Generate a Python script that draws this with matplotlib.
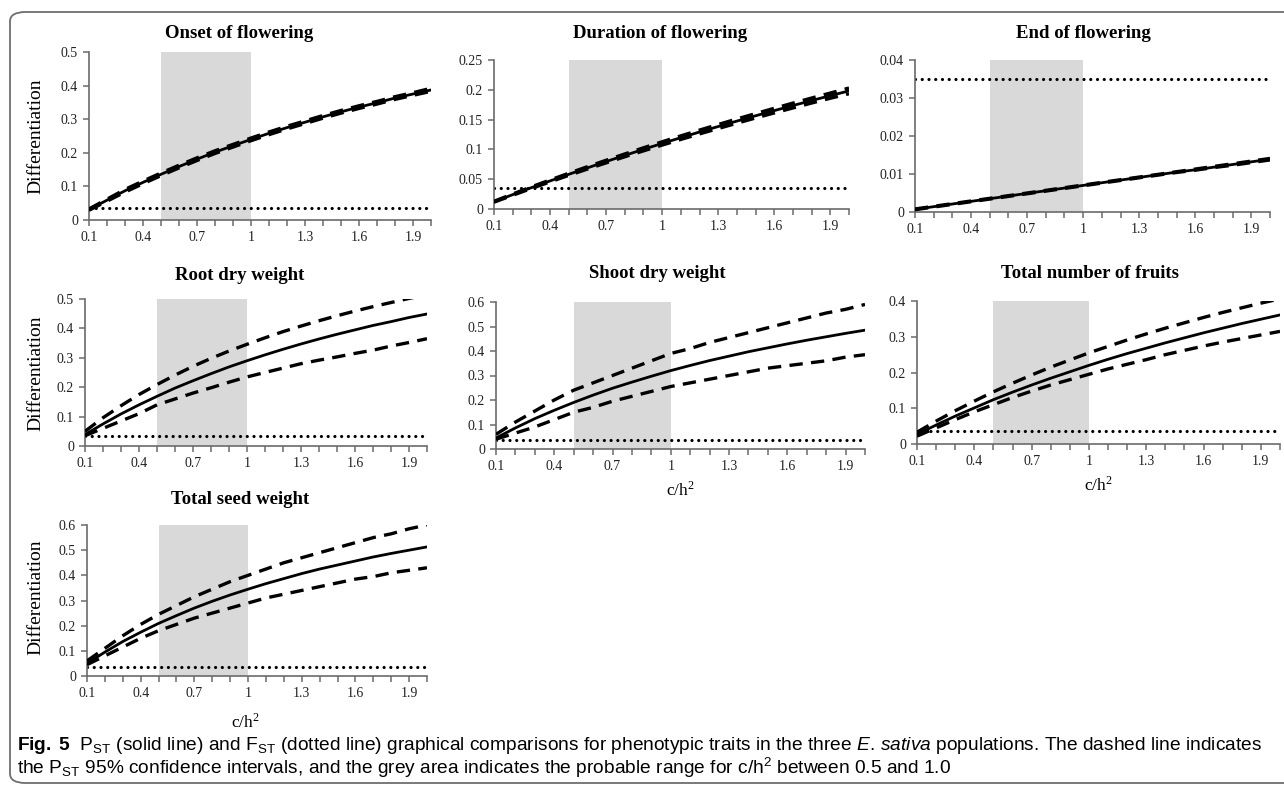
import numpy as np
import matplotlib
matplotlib.use("Agg")
import matplotlib.pyplot as plt
from matplotlib.patches import FancyBboxPatch
from matplotlib.ticker import FuncFormatter, MultipleLocator

W, H = 1284, 789

# c/h2 values (x axis categories)
ch2 = [0.1, 0.2, 0.3, 0.4, 0.5, 0.6, 0.7, 0.8, 0.9, 1.0,
       1.1, 1.2, 1.3, 1.4, 1.5, 1.6, 1.7, 1.8, 1.9, 2.0]
x_labels = ["0.1", "0.4", "0.7", "1", "1.3", "1.6", "1.9"]
fst = 0.035

onset_pst = [0.031, 0.059, 0.087, 0.112, 0.136, 0.159, 0.181, 0.202, 0.221, 0.240,
             0.258, 0.275, 0.291, 0.307, 0.322, 0.336, 0.349, 0.363, 0.375, 0.387]
onset_hi = [0.033, 0.062, 0.091, 0.116, 0.140, 0.163, 0.185, 0.206, 0.225, 0.244,
            0.262, 0.279, 0.295, 0.311, 0.326, 0.340, 0.353, 0.367, 0.379, 0.392]
onset_lo = [0.029, 0.056, 0.083, 0.108, 0.132, 0.155, 0.177, 0.198, 0.217, 0.236,
            0.254, 0.271, 0.287, 0.303, 0.318, 0.332, 0.345, 0.359, 0.371, 0.383]

dur_pst = [0.0122, 0.0241, 0.0358, 0.0471, 0.0582, 0.0690, 0.0796, 0.0900, 0.1001, 0.1100,
           0.1197, 0.1292, 0.1384, 0.1475, 0.1564, 0.1651, 0.1736, 0.1820, 0.1902, 0.1982]
dur_hi = [0.0130, 0.0252, 0.0372, 0.0487, 0.0600, 0.0710, 0.0818, 0.0924, 0.1027, 0.1128,
          0.1227, 0.1324, 0.1418, 0.1511, 0.1601, 0.1690, 0.1777, 0.1862, 0.1946, 0.2030]
dur_lo = [0.0114, 0.0230, 0.0344, 0.0455, 0.0564, 0.0670, 0.0774, 0.0876, 0.0975, 0.1072,
          0.1167, 0.1260, 0.1350, 0.1439, 0.1527, 0.1612, 0.1695, 0.1778, 0.1858, 0.1934]

end_pst = [0.0007, 0.0014, 0.0021, 0.0028, 0.0035, 0.0042, 0.0049, 0.0056, 0.0063, 0.0070,
           0.0077, 0.0084, 0.0091, 0.0098, 0.0105, 0.0111, 0.0118, 0.0125, 0.0132, 0.0139]
end_hi = [0.0008, 0.0015, 0.0022, 0.0029, 0.0036, 0.0043, 0.0050, 0.0057, 0.0064, 0.0071,
          0.0078, 0.0085, 0.0092, 0.0099, 0.0106, 0.0113, 0.0120, 0.0127, 0.0134, 0.0141]
end_lo = [0.0006, 0.0013, 0.0020, 0.0027, 0.0034, 0.0041, 0.0048, 0.0055, 0.0062, 0.0069,
          0.0076, 0.0083, 0.0090, 0.0097, 0.0104, 0.0110, 0.0117, 0.0123, 0.0130, 0.0137]

root_pst = [0.039, 0.075, 0.109, 0.140, 0.169, 0.197, 0.222, 0.246, 0.269, 0.290,
            0.310, 0.329, 0.347, 0.364, 0.380, 0.395, 0.410, 0.423, 0.437, 0.449]
root_hi = [0.050, 0.096, 0.137, 0.175, 0.209, 0.241, 0.271, 0.298, 0.323, 0.346,
           0.368, 0.389, 0.408, 0.426, 0.443, 0.459, 0.474, 0.488, 0.502, 0.515]
root_lo = [0.035, 0.060, 0.085, 0.110, 0.140, 0.160, 0.180, 0.198, 0.217, 0.235,
           0.250, 0.265, 0.280, 0.292, 0.303, 0.315, 0.326, 0.340, 0.352, 0.365]

shoot_pst = [0.045, 0.086, 0.124, 0.158, 0.190, 0.220, 0.248, 0.273, 0.297, 0.320,
             0.341, 0.361, 0.379, 0.397, 0.413, 0.429, 0.444, 0.458, 0.472, 0.485]
shoot_hi = [0.060, 0.110, 0.155, 0.200, 0.240, 0.270, 0.300, 0.330, 0.360, 0.390,
            0.410, 0.435, 0.455, 0.475, 0.495, 0.515, 0.535, 0.555, 0.570, 0.590]
shoot_lo = [0.040, 0.065, 0.090, 0.120, 0.150, 0.170, 0.195, 0.215, 0.235, 0.255,
            0.270, 0.285, 0.300, 0.315, 0.330, 0.340, 0.350, 0.360, 0.375, 0.385]

fruit_pst = [0.027, 0.053, 0.078, 0.101, 0.124, 0.145, 0.165, 0.184, 0.202, 0.220,
             0.237, 0.253, 0.268, 0.283, 0.297, 0.311, 0.324, 0.337, 0.349, 0.361]
fruit_hi = [0.033, 0.064, 0.093, 0.120, 0.146, 0.170, 0.193, 0.215, 0.235, 0.255,
            0.273, 0.291, 0.308, 0.324, 0.339, 0.354, 0.368, 0.381, 0.394, 0.406]
fruit_lo = [0.022, 0.045, 0.068, 0.090, 0.110, 0.130, 0.148, 0.165, 0.180, 0.195,
            0.210, 0.223, 0.236, 0.250, 0.262, 0.274, 0.285, 0.295, 0.305, 0.315]

seed_pst = [0.050, 0.095, 0.137, 0.174, 0.209, 0.240, 0.270, 0.297, 0.322, 0.345,
            0.367, 0.387, 0.407, 0.425, 0.441, 0.457, 0.473, 0.487, 0.500, 0.513]
seed_hi = [0.060, 0.110, 0.160, 0.205, 0.245, 0.280, 0.315, 0.345, 0.375, 0.400,
           0.425, 0.450, 0.470, 0.490, 0.510, 0.530, 0.550, 0.565, 0.585, 0.600]
seed_lo = [0.045, 0.080, 0.115, 0.150, 0.180, 0.205, 0.230, 0.250, 0.270, 0.290,
           0.310, 0.325, 0.340, 0.355, 0.370, 0.385, 0.395, 0.410, 0.420, 0.430]

titles = ["Onset of flowering", "Duration of flowering", "End of flowering",
          "Root dry weight", "Shoot dry weight", "Total number of fruits",
          "Total seed weight"]
y_max = [0.5, 0.25, 0.04, 0.5, 0.6, 0.4, 0.6]
y_step = [0.1, 0.05, 0.01, 0.1, 0.1, 0.1, 0.1]
series = [(onset_pst, onset_hi, onset_lo), (dur_pst, dur_hi, dur_lo),
          (end_pst, end_hi, end_lo), (root_pst, root_hi, root_lo),
          (shoot_pst, shoot_hi, shoot_lo), (fruit_pst, fruit_hi, fruit_lo),
          (seed_pst, seed_hi, seed_lo)]

# pixel boxes: left, top, right, bottom of each plot area
boxes = [(89, 52, 431, 220), (494, 60, 849, 209), (915, 60, 1270, 212),
         (85, 299, 427, 446), (496, 302, 865, 449), (917, 301, 1280, 444),
         (87, 525, 427, 676)]
title_pos = [(239, 33), (660, 33), (1083, 33), (240, 275), (657, 274),
             (1090, 273), (240, 499)]
ylab_pos = [(36, 136), (36, 373), (36, 597)]
xlab_pos = [(680, 490), (1098, 485), (245, 722)]

serif = "Liberation Serif"
plt.rcParams["mathtext.fontset"] = "custom"
plt.rcParams["mathtext.rm"] = "Liberation Sans"
plt.rcParams["mathtext.it"] = "Liberation Sans:italic"
plt.rcParams["mathtext.bf"] = "Liberation Sans:bold"

fig = plt.figure(figsize=(W / 100, H / 100), dpi=100)


def px(l, t, r, b):
    return [l / W, 1 - b / H, (r - l) / W, (b - t) / H]


def fmt(v, pos):
    return "{:g}".format(round(v, 3))


for i in range(7):
    ax = fig.add_axes(px(*boxes[i]))
    pst, hi, lo = series[i]
    ax.axvspan(0.5, 1.0, color="#d9d9d9", lw=0, zorder=0)
    ax.plot(ch2, [fst] * len(ch2), color="black", lw=2.3,
            linestyle=(0, (0.01, 2.1)), dash_capstyle="round", zorder=2)
    ax.plot(ch2, hi, color="black", lw=2.4, linestyle=(0, (4, 2.5)), zorder=3)
    ax.plot(ch2, lo, color="black", lw=2.4, linestyle=(0, (4, 2.5)), zorder=3)
    ax.plot(ch2, pst, color="black", lw=2.0, zorder=4)
    ax.set_xlim(0.1, 2.0)
    ax.set_ylim(0, y_max[i])
    ax.set_xticks([float(s) for s in x_labels])
    ax.set_xticklabels(x_labels)
    ax.xaxis.set_minor_locator(MultipleLocator(0.1))
    ax.yaxis.set_major_locator(MultipleLocator(y_step[i]))
    ax.yaxis.set_major_formatter(FuncFormatter(fmt))
    for s in ["top", "right"]:
        ax.spines[s].set_visible(False)
    for s in ["left", "bottom"]:
        ax.spines[s].set_color("#6b6b6b")
        ax.spines[s].set_linewidth(1.2)
    ax.tick_params(which="both", direction="out", color="#6b6b6b", width=1.1)
    ax.tick_params(which="major", length=4, labelsize=10, pad=4)
    ax.tick_params(which="minor", length=4)
    for lab in ax.get_xticklabels() + ax.get_yticklabels():
        lab.set_fontfamily(serif)
        lab.set_color("#222222")
    ax.patch.set_alpha(0)
    tx, ty = title_pos[i]
    fig.text(tx / W, 1 - ty / H, titles[i], ha="center", va="center",
             fontsize=13.5, fontweight="bold", family=serif)

for (lx, ly) in ylab_pos:
    fig.text(lx / W, 1 - ly / H, "Differentiation", rotation=90, ha="center",
             va="center", fontsize=14, family=serif)
for (lx, ly) in xlab_pos:
    fig.text(lx / W, 1 - ly / H, r"c/h$^\mathregular{2}$", ha="center",
             va="center", fontsize=12.5, family=serif)

# caption
cap_font = "Liberation Sans"
line1 = (r"$\mathbf{Fig.\;5}$  P$_\mathregular{ST}$ (solid line) and F$_\mathregular{ST}$ "
         r"(dotted line) graphical comparisons for phenotypic traits in the three "
         r"$\mathit{E.\,sativa}$ populations. The dashed line indicates")
line2 = (r"the P$_\mathregular{ST}$ 95% confidence intervals, and the grey area indicates "
         r"the probable range for c/h$^\mathregular{2}$ between 0.5 and 1.0")
fig.text(17 / W, 1 - 746 / H, line1, ha="left", va="center", fontsize=13.8,
         family=cap_font)
fig.text(17 / W, 1 - 768 / H, line2, ha="left", va="center", fontsize=13.8,
         family=cap_font)

box = FancyBboxPatch((10 / W, 1 - 783 / H), 1290 / W, 771 / H,
                     boxstyle="round,pad=0,rounding_size=0.012",
                     transform=fig.transFigure, fill=False,
                     edgecolor="#6e6e6e", lw=1.3)
fig.patches.append(box)

fig.savefig("out.png", dpi=100)
